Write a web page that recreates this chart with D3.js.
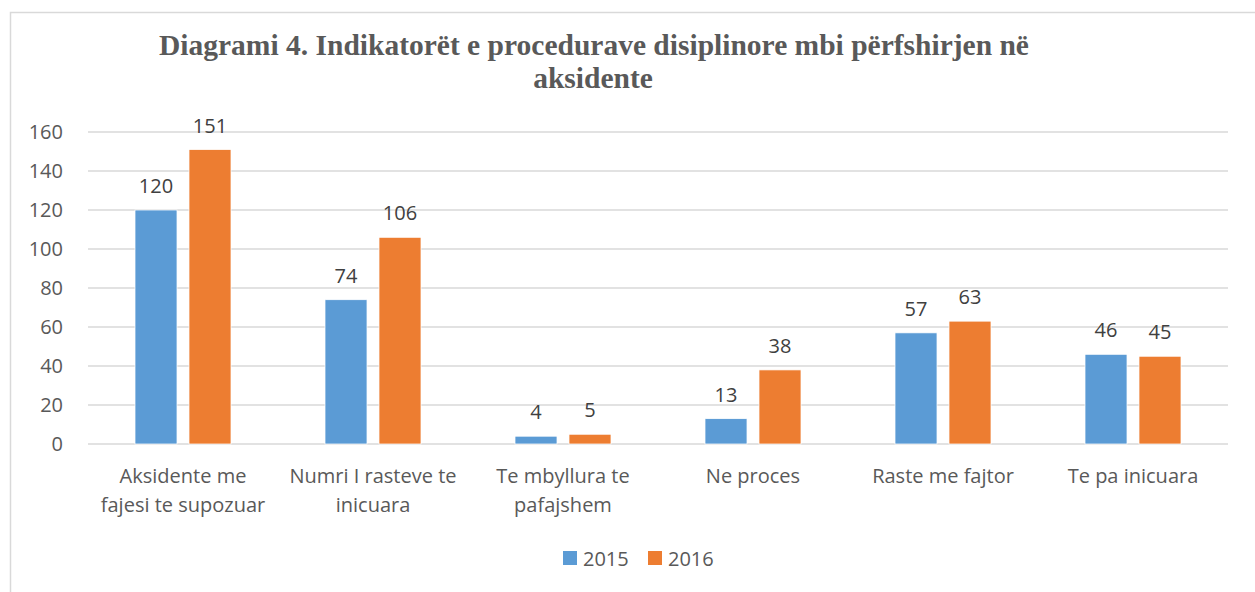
<!DOCTYPE html>
<html>
<head>
<meta charset="utf-8">
<script src="https://cdn.jsdelivr.net/npm/d3@7"></script>
<style>
  body { margin: 0; background: #fff; }
  svg { display: block; }
</style>
</head>
<body>
<svg class="chart"></svg>
<script>
let width = 1255, height = 592;
let margin = { top: 132, right: 27, bottom: 148, left: 88 };
let w = width - margin.left - margin.right;
let h = height - margin.top - margin.bottom;

let categories = [
  ["Aksidente me", "fajesi te supozuar"],
  ["Numri I rasteve te", "inicuara"],
  ["Te mbyllura te", "pafajshem"],
  ["Ne proces"],
  ["Raste me fajtor"],
  ["Te pa inicuara"]
];
let years = ["2015", "2016"];
let values2015 = [120, 74, 4, 13, 57, 46];
let values2016 = [151, 106, 5, 38, 63, 45];
let yTicks = [0, 20, 40, 60, 80, 100, 120, 140, 160];
let colors = ["#5B9BD5", "#ED7D31"];
let textFont = "'Open Sans', Lato, sans-serif";

let svg = d3.select(".chart")
  .attr("width", width)
  .attr("height", height);

// outer frame
svg.append("rect")
  .attr("x", 10.5).attr("y", 12.5)
  .attr("width", width + 20).attr("height", height + 20)
  .style("fill", "none")
  .style("stroke", "#d9d9d9")
  .style("stroke-width", 1.5);

// title
let title = svg.append("text")
  .attr("text-anchor", "middle")
  .style("font-family", "'Liberation Serif', 'Times New Roman', serif")
  .style("font-weight", "bold")
  .style("font-size", "29.5px")
  .style("fill", "#595959");
title.append("tspan").attr("x", 594).attr("y", 55).text("Diagrami 4. Indikatorët e procedurave disiplinore mbi përfshirjen në");
title.append("tspan").attr("x", 593).attr("y", 88).text("aksidente");

let chart = svg.append("g")
  .attr("transform", "translate(" + margin.left + "," + margin.top + ")");

let idx = d3.range(categories.length);
let x = d3.scaleBand().domain(idx).range([0, w]).paddingInner(0).paddingOuter(0);
let x1 = d3.scaleBand().domain(years).range([47, x.bandwidth() - 47]).paddingInner(0.222).paddingOuter(0);
let y = d3.scaleLinear().domain([0, 160]).range([h, 0]);

// gridlines
chart.append("g").selectAll("line")
  .data(yTicks)
  .enter().append("line")
  .attr("x1", 0).attr("x2", w)
  .attr("y1", d => y(d)).attr("y2", d => y(d))
  .style("stroke", "#d9d9d9")
  .style("stroke-width", 1.5);

// y axis labels
let yAxis = chart.append("g")
  .call(d3.axisLeft(y).tickValues(yTicks).tickSize(0).tickPadding(25));
yAxis.select(".domain").remove();
yAxis.selectAll("text")
  .style("font-family", textFont)
  .style("font-size", "20px")
  .style("fill", "#595959");

// bars
let series = years.map((yr, i) => ({ year: yr, vals: i === 0 ? values2015 : values2016, color: colors[i] }));
let groups = chart.selectAll(".grp")
  .data(series)
  .enter().append("g");

groups.selectAll("rect")
  .data(s => s.vals.map((v, i) => ({ i: i, v: v, year: s.year, color: s.color })))
  .enter().append("rect")
  .attr("x", d => x(d.i) + x1(d.year))
  .attr("width", x1.bandwidth())
  .attr("y", d => y(d.v))
  .attr("height", d => h - y(d.v))
  .style("fill", d => d.color)
  .style("stroke", "#fff")
  .style("stroke-width", 0.75);

groups.selectAll("text")
  .data(s => s.vals.map((v, i) => ({ i: i, v: v, year: s.year })))
  .enter().append("text")
  .attr("x", d => x(d.i) + x1(d.year) + x1.bandwidth() / 2)
  .attr("y", d => y(d.v) - 17)
  .attr("text-anchor", "middle")
  .style("font-family", textFont)
  .style("font-size", "20px")
  .style("fill", "#404040")
  .text(d => d.v);

// category labels
let cat = chart.append("g").selectAll("text")
  .data(categories)
  .enter().append("text")
  .attr("text-anchor", "middle")
  .style("font-family", textFont)
  .style("font-size", "20px")
  .style("fill", "#595959");
cat.each(function (lines, i) {
  let t = d3.select(this);
  lines.forEach((ln, j) => {
    t.append("tspan")
      .attr("x", x(i) + x.bandwidth() / 2)
      .attr("y", h + 39 + j * 29)
      .text(ln);
  });
});

// legend
let legend = svg.append("g").attr("transform", "translate(563,551)");
let lx = [0, 85];
years.forEach((yr, i) => {
  legend.append("rect")
    .attr("x", lx[i]).attr("y", 0)
    .attr("width", 14).attr("height", 14)
    .style("fill", colors[i]);
  legend.append("text")
    .attr("x", lx[i] + 20).attr("y", 15)
    .style("font-family", textFont)
    .style("font-size", "20px")
    .style("fill", "#595959")
    .text(yr);
});
</script>
</body>
</html>
